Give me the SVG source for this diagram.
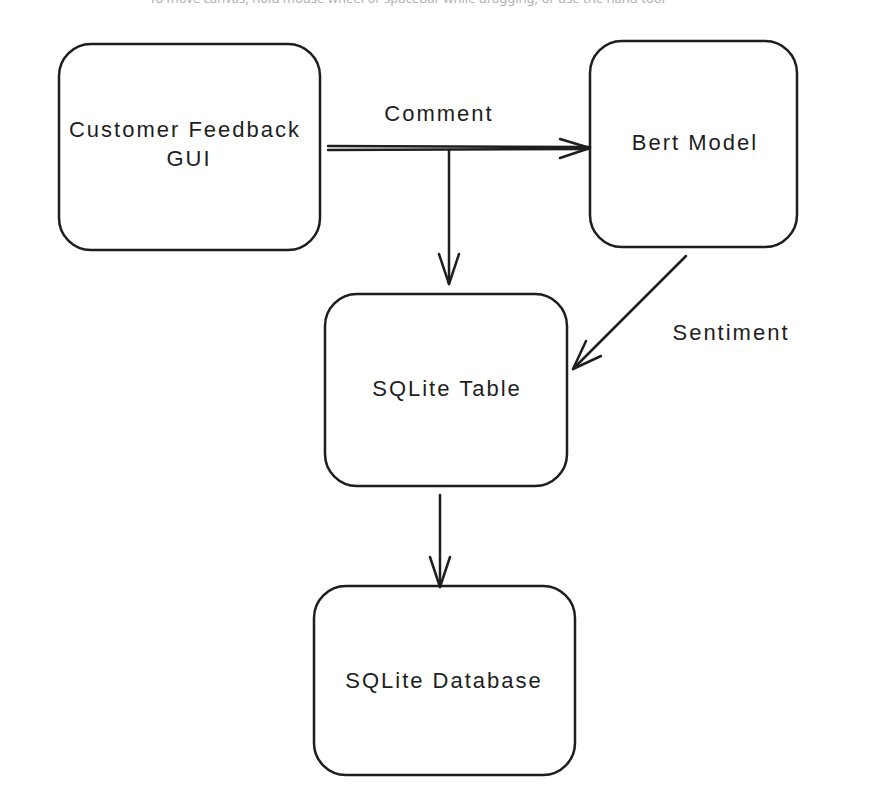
<svg xmlns="http://www.w3.org/2000/svg" width="871" height="807" viewBox="0 0 871 807">
<style>
.box{fill:#fff;stroke:#1e1e1e;stroke-width:2.5}
.lbl{font-family:"Liberation Sans",Arial,sans-serif;font-size:22px;letter-spacing:2px;fill:#1e1e1e;text-anchor:middle}
.edge{fill:none;stroke:#1e1e1e;stroke-width:2.5;stroke-linecap:round;stroke-linejoin:round}
.hint{font-family:"Noto Sans",sans-serif;font-size:13px;fill:#b0b0b0;text-anchor:middle}
</style>
<rect width="871" height="807" fill="#fff"/>
<text class="hint" x="407" y="3">To move canvas, hold mouse wheel or spacebar while dragging, or use the hand tool</text>
<g id="gui">
<rect class="box" x="59" y="44" width="261" height="206" rx="32"/>
<text class="lbl" x="185" y="137">Customer Feedback</text>
<text class="lbl" x="189" y="166">GUI</text>
</g>
<g id="bert">
<rect class="box" x="590" y="41" width="207" height="206" rx="32"/>
<text class="lbl" x="695" y="150">Bert Model</text>
</g>
<g id="table">
<rect class="box" x="325" y="294" width="242" height="192" rx="32"/>
<text class="lbl" x="447" y="396">SQLite Table</text>
</g>
<g id="db">
<rect class="box" x="314" y="586" width="261" height="189" rx="32"/>
<text class="lbl" x="444" y="688">SQLite Database</text>
</g>
<g id="connectors">
<path class="edge" d="M328 146 L590 147 M328 150 L588 149"/>
<path class="edge" d="M560 139 L590 148 L560 158"/>
<text class="lbl" x="439" y="121">Comment</text>
<path class="edge" d="M449 150 L449 284"/>
<path class="edge" d="M439 254 L449 284 L459 254"/>
<path class="edge" d="M686 256 L573 369"/>
<path class="edge" d="M586 341 L573 369 L601 356"/>
<text class="lbl" x="731" y="340">Sentiment</text>
<path class="edge" d="M440 495 L440 587"/>
<path class="edge" d="M430 557 L440 587 L450 557"/>
</g>
</svg>
